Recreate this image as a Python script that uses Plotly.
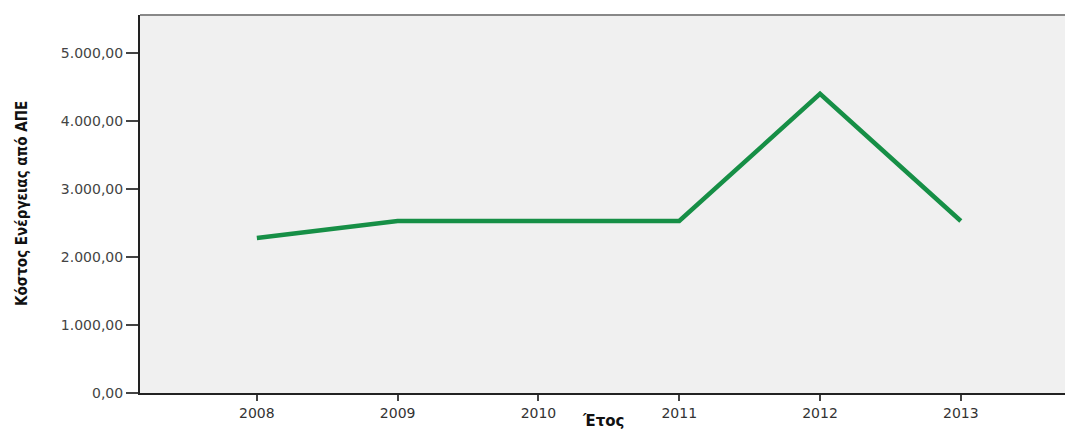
import plotly.graph_objects as go

years = [2008, 2009, 2010, 2011, 2012, 2013]
cost = [2280, 2530, 2530, 2530, 4400, 2530]
y_ticks = [0, 1000, 2000, 3000, 4000, 5000]

fig = go.Figure()
fig.add_trace(go.Scatter(
    x=years, y=cost, mode="lines",
    line=dict(color="#168f46", width=4.5),
    cliponaxis=False, hoverinfo="skip",
))

fig.update_layout(
    width=1065, height=430,
    margin=dict(l=140, r=0, t=15, b=37),
    paper_bgcolor="white",
    plot_bgcolor="#f0f0f0",
    separators=",.",
    showlegend=False,
    font=dict(family="DejaVu Sans", size=14, color="#333333"),
    xaxis=dict(
        range=[2007.17, 2013.74],
        tickmode="array", tickvals=years, ticktext=[str(y) for y in years],
        ticks="outside", ticklen=6, tickwidth=2, tickcolor="#444444",
        showgrid=False, zeroline=False,
        showline=True, linecolor="#222222", linewidth=2,
        tickfont=dict(family="DejaVu Sans", size=14, color="#333333"),
    ),
    yaxis=dict(
        range=[0, 5560],
        tickmode="array", tickvals=y_ticks,
        tickformat=",.2f",
        ticks="outside", ticklen=12, tickwidth=2, tickcolor="#444444",
        showgrid=False, zeroline=False,
        showline=True, linecolor="#222222", linewidth=2,
        tickfont=dict(family="DejaVu Sans", size=14, color="#444444"),
    ),
)
fig.add_shape(type="line", xref="paper", yref="paper", x0=0, x1=1, y0=1, y1=1,
              line=dict(color="#888888", width=2))

fig.add_annotation(text="<b>Κόστος Ενέργειας από ΑΠΕ</b>", xref="paper", yref="paper",
                   x=0, y=0.5, xshift=-118, textangle=-90, showarrow=False,
                   xanchor="center", yanchor="middle",
                   font=dict(family="DejaVu Sans Condensed, Liberation Sans Narrow, sans-serif",
                             size=15, color="#111111"))
fig.add_annotation(text="<b>Έτος</b>", xref="paper", yref="paper",
                   x=0.5, y=0, yshift=-17, showarrow=False,
                   xanchor="center", yanchor="top",
                   font=dict(family="DejaVu Sans", size=15, color="#111111"))

fig.write_html("out.html", config={"displayModeBar": False},
               post_script="document.body.style.margin='0';document.body.style.overflow='hidden';")
